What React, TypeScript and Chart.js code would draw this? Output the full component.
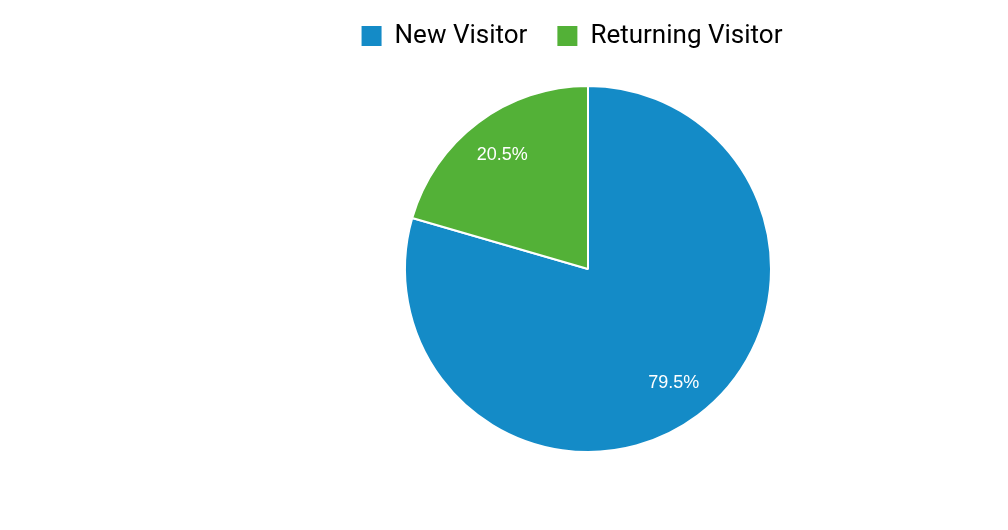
import React, { useEffect, useRef } from "react";
import { Chart, registerables } from "chart.js";

Chart.register(...registerables);

const categories = ["New Visitor", "Returning Visitor"];
const values = [79.5, 20.5];
const colors = ["#148BC7", "#53B137"];

const labelPlugin = {
  id: "sliceLabels",
  afterDatasetsDraw(chart: any) {
    const ctx = chart.ctx;
    const meta = chart.getDatasetMeta(0);
    const data = chart.data.datasets[0].data as number[];
    const total = data.reduce((a, b) => a + b, 0);
    ctx.save();
    ctx.fillStyle = "#ffffff";
    ctx.font = "18px 'Liberation Sans', Arial, sans-serif";
    ctx.textAlign = "center";
    ctx.textBaseline = "middle";
    meta.data.forEach((arc: any, i: number) => {
      const p = arc.getProps(["x", "y", "startAngle", "endAngle", "outerRadius"], true);
      const mid = (p.startAngle + p.endAngle) / 2;
      const r = p.outerRadius * 0.78;
      const pct = ((data[i] / total) * 100).toFixed(1) + "%";
      ctx.fillText(pct, p.x + Math.cos(mid) * r, p.y + Math.sin(mid) * r);
    });
    ctx.restore();
  },
};

const legendShift = {
  id: "legendShift",
  beforeInit(chart: any) {
    const legend = chart.legend;
    const origFit = legend.fit;
    legend.fit = function () {
      origFit.call(legend);
      legend.height += 11;
    };
  },
  afterLayout(chart: any) {
    chart.legend.left -= 16;
    chart.legend.right -= 16;
    chart.legend.top -= 15;
    chart.legend.bottom -= 15;
  },
};

export default function App() {
  const ref = useRef<HTMLCanvasElement | null>(null);
  useEffect(() => {
    if (!ref.current) return;
    const chart = new Chart(ref.current, {
      type: "pie",
      data: {
        labels: categories,
        datasets: [
          {
            data: values,
            backgroundColor: colors,
            borderColor: "#ffffff",
            borderWidth: 2,
          },
        ],
      },
      options: {
        responsive: false,
        animation: false,
        layout: { padding: { left: 168, top: 8, bottom: 77, right: 0 } },
        plugins: {
          tooltip: { enabled: false },
          legend: {
            position: "top",
            labels: {
              color: "#111111",
              font: { family: "Roboto", size: 26 },
              boxWidth: 20,
              boxHeight: 20,
              padding: 30,
              generateLabels: (c: any) =>
                categories.map((t, i) => ({
                  text: t,
                  fillStyle: colors[i],
                  strokeStyle: colors[i],
                  lineWidth: 0,
                  hidden: false,
                  index: i,
                })),
            },
          },
        },
      },
      plugins: [labelPlugin, legendShift],
    });
    return () => chart.destroy();
  }, []);
  return (
    <div style={{ position: "absolute", left: 0, top: 0, width: 1008, height: 530, background: "#fff" }}>
      <canvas ref={ref} width={1008} height={530} />
    </div>
  );
}
